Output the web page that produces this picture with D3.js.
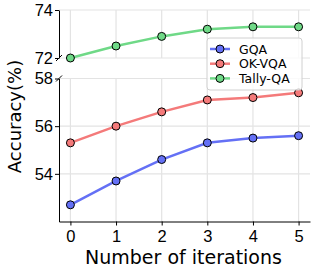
<!DOCTYPE html>
<html>
<head>
<meta charset="utf-8">
<script src="https://cdn.jsdelivr.net/npm/d3@7"></script>
<style>
  body { margin: 0; background: #fff; }
  svg { display: block; font-family: "DejaVu Sans", sans-serif; }
  .grid line { stroke: #e3e3e3; stroke-width: 1.2; }
  .axis text { font-size: 16.5px; fill: #000; }
  .axis path, .axis line { stroke: #000; stroke-width: 1; }
</style>
</head>
<body>
<div id="graphic"></div>
<script>
// data
const iterations = [0, 1, 2, 3, 4, 5];
const gqa = [52.7, 53.7, 54.6, 55.3, 55.5, 55.6];
const okvqa = [55.3, 56.0, 56.6, 57.1, 57.2, 57.4];
const tallyqa = [72.0, 72.5, 72.9, 73.2, 73.3, 73.3];
const seriesNames = ['GQA', 'OK-VQA', 'Tally-QA'];
const colours = ['#6470f5', '#f47a7a', '#6fd987'];
const topTicks = [72, 74];
const bottomTicks = [54, 56, 58];

const width = 314, height = 268;
const left = 59, right = 310;

const svg = d3.select('#graphic').append('svg')
	.attr('width', width)
	.attr('height', height);

const x = d3.scaleLinear().domain([-0.25, 5.25]).range([left, right]);
const yTop = d3.scaleLinear().domain([72, 74]).range([58, 10]);
const yBot = d3.scaleLinear().domain([52, 58]).range([221.5, 78.5]);

// grid lines
function grid(y, ticks) {
	const g = svg.append('g').attr('class', 'grid');
	g.selectAll('line.h').data(ticks).join('line')
		.attr('x1', left).attr('x2', right)
		.attr('y1', (d) => y(d)).attr('y2', (d) => y(d));
	g.selectAll('line.v').data(iterations).join('line')
		.attr('x1', (d) => x(d)).attr('x2', (d) => x(d))
		.attr('y1', y.range()[1]).attr('y2', y.range()[0]);
}
grid(yTop, topTicks);
grid(yBot, bottomTicks);

// axes
const fmt = d3.format('d');
svg.append('g').attr('class', 'axis')
	.attr('transform', `translate(${left},0)`)
	.call(d3.axisLeft(yTop).tickValues(topTicks).tickFormat(fmt).tickSize(4).tickSizeOuter(0).tickPadding(2));
svg.append('g').attr('class', 'axis')
	.attr('transform', `translate(${left},0)`)
	.call(d3.axisLeft(yBot).tickValues(bottomTicks).tickFormat(fmt).tickSize(4).tickSizeOuter(0).tickPadding(2));
svg.append('g').attr('class', 'axis')
	.attr('transform', `translate(0,${yBot.range()[0]})`)
	.call(d3.axisBottom(x).tickValues(iterations).tickFormat(fmt).tickSize(4).tickSizeOuter(0).tickPadding(5));

// break marks
[yTop.range()[0], yBot.range()[1]].forEach((yy) => {
	svg.append('line')
		.attr('x1', left - 3).attr('y1', yy + 3)
		.attr('x2', left + 3).attr('y2', yy - 3)
		.attr('stroke', '#000').attr('stroke-width', 1);
});

// lines + markers
function drawSeries(values, y, colour) {
	const line = d3.line().x((d, i) => x(iterations[i])).y((d) => y(d));
	svg.append('path').datum(values)
		.attr('fill', 'none')
		.attr('stroke', colour)
		.attr('stroke-width', 2.5)
		.attr('d', line);
	svg.selectAll(null).data(values).join('circle')
		.attr('cx', (d, i) => x(iterations[i]))
		.attr('cy', (d) => y(d))
		.attr('r', 4)
		.attr('fill', colour)
		.attr('stroke', '#000')
		.attr('stroke-width', 1);
}
drawSeries(tallyqa, yTop, colours[2]);
drawSeries(okvqa, yBot, colours[1]);
drawSeries(gqa, yBot, colours[0]);

// legend
const legend = svg.append('g').attr('transform', 'translate(207,38)');
legend.append('rect')
	.attr('width', 95).attr('height', 52)
	.attr('rx', 3)
	.attr('fill', 'rgba(255,255,255,0.8)')
	.attr('stroke', '#d0d0d0');
seriesNames.forEach((name, i) => {
	const yy = 11 + i * 14.7;
	legend.append('line')
		.attr('x1', 3).attr('x2', 23).attr('y1', yy).attr('y2', yy)
		.attr('stroke', colours[i]).attr('stroke-width', 2.5);
	legend.append('circle')
		.attr('cx', 13).attr('cy', yy).attr('r', 4)
		.attr('fill', colours[i]).attr('stroke', '#000');
	legend.append('text')
		.attr('x', 32).attr('y', yy)
		.attr('dy', '0.36em')
		.style('font-size', '12.5px')
		.text(name);
});

// axis titles
svg.append('text')
	.attr('x', (left + right) / 2 - 1)
	.attr('y', 264)
	.attr('text-anchor', 'middle')
	.style('font-size', '19px')
	.text('Number of iterations');
svg.append('text')
	.attr('transform', 'translate(21,116.5) rotate(-90)')
	.attr('text-anchor', 'middle')
	.style('font-size', '18px')
	.text('Accuracy(%)');
</script>
</body>
</html>
